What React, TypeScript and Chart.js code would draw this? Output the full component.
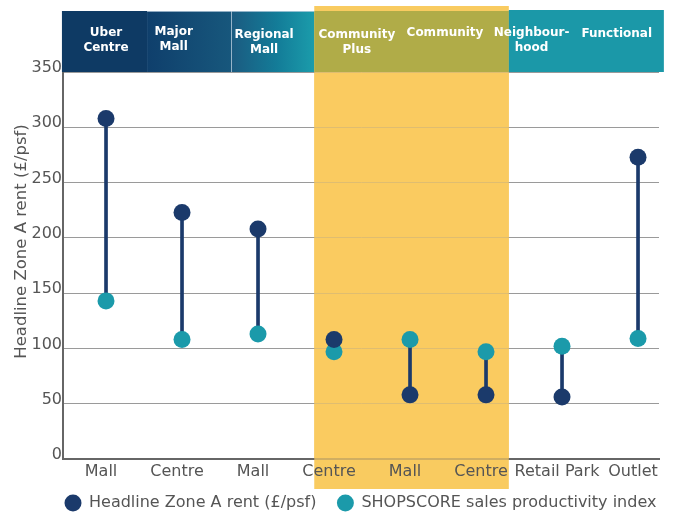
import { useEffect, useRef } from "react";
import { Chart, registerables } from "chart.js";

Chart.register(...registerables);

const categories = ["Mall", "Centre", "Mall", "Centre", "Mall", "Centre", "Retail Park", "Outlet"];
const headlineRent = [308, 223, 208, 108, 58, 58, 56, 273];
const shopscore = [143, 108, 113, 97, 108, 97, 102, 109];
const yTicks = [0, 50, 100, 150, 200, 250, 300, 350];

const groupLabels = [
  ["Uber", "Centre"],
  ["Major", "Mall"],
  ["Regional", "Mall"],
  ["Community", "Plus"],
  ["Community"],
  ["Neighbour-", "hood"],
  ["Functional"],
];
const groupLabelX = [0, 0.89, 2.08, 3.3, 4.46, 5.6, 6.72];
const groupLabelY = [33, 32, 35, 35, 33, 33, 34];

const FONT = "'DejaVu Sans', sans-serif";
const NAVY = "#1b3a6b";
const TEAL = "#1b9aaa";
const YELLOW = "#f9cb60";

const HL_FROM = 2.74;
const HL_TO = 5.3;
const LEGEND_PAD = 21;

const decorPlugin = {
  id: "decor",
  afterLayout(chart: any) {
    const lg = chart.legend;
    if (lg) {
      lg.left = chart.chartArea.left + 2 - LEGEND_PAD;
      lg.right = chart.width + 100;
      lg.top = chart.chartArea.bottom + 15;
    }
  },
  beforeDraw(chart: any) {
    const { ctx, chartArea, scales } = chart;
    const x = scales.x;
    const x0 = x.getPixelForValue(HL_FROM);
    const x1 = x.getPixelForValue(HL_TO);
    ctx.save();
    ctx.fillStyle = YELLOW;
    ctx.fillRect(x0, chartArea.top - 66, x1 - x0, chartArea.bottom - chartArea.top + 96);
    ctx.restore();
  },
  beforeDatasetsDraw(chart: any) {
    const { ctx, chartArea, scales } = chart;
    const x = scales.x;
    const x0 = x.getPixelForValue(HL_FROM);
    const x1 = x.getPixelForValue(HL_TO);
    ctx.save();
    ctx.fillStyle = "rgba(249,203,96,0.72)";
    ctx.fillRect(x0, chartArea.top, x1 - x0, chartArea.bottom - chartArea.top + 1);
    ctx.restore();
  },
  afterDraw(chart: any) {
    const { ctx, chartArea, scales } = chart;
    const x = scales.x;
    const top = chartArea.top - 61;
    const bot = chartArea.top;
    const px = (v: number) => x.getPixelForValue(v);
    ctx.save();
    // Uber Centre
    ctx.fillStyle = "#0e3a64";
    ctx.fillRect(px(-0.58), top, px(0.54) - px(-0.58), bot - top);
    // Major Mall
    let g = ctx.createLinearGradient(px(0.54), 0, px(1.645), 0);
    g.addColorStop(0, "#0f3f6c");
    g.addColorStop(1, "#17577c");
    ctx.fillStyle = g;
    ctx.fillRect(px(0.54), top, px(1.645) - px(0.54), bot - top);
    // Regional Mall
    g = ctx.createLinearGradient(px(1.645), 0, px(HL_FROM), 0);
    g.addColorStop(0, "#1b5a80");
    g.addColorStop(0.55, "#137c98");
    g.addColorStop(1, "#1b9cab");
    ctx.fillStyle = g;
    ctx.fillRect(px(1.645), top, px(HL_FROM) - px(1.645), bot - top);
    // Community group (olive)
    ctx.fillStyle = "#b0ac48";
    ctx.fillRect(px(HL_FROM), top, px(HL_TO) - px(HL_FROM), bot - top);
    // Neighbourhood / Functional
    ctx.fillStyle = "#1b98a8";
    ctx.fillRect(px(HL_TO), top - 1, px(7.34) - px(HL_TO), bot - top + 1);
    // light separators
    ctx.strokeStyle = "rgba(200,215,230,0.7)";
    ctx.lineWidth = 1;
    ctx.beginPath();
    ctx.moveTo(Math.round(px(1.645)) + 0.5, top);
    ctx.lineTo(Math.round(px(1.645)) + 0.5, bot);
    ctx.moveTo(px(0.54), top + 0.5);
    ctx.lineTo(px(HL_FROM), top + 0.5);
    ctx.stroke();

    ctx.fillStyle = "#ffffff";
    ctx.font = `bold 12px ${FONT}`;
    ctx.textAlign = "center";
    ctx.textBaseline = "middle";
    groupLabels.forEach((lines, i) => {
      lines.forEach((t, j) => {
        ctx.fillText(t, px(groupLabelX[i]), groupLabelY[i] + j * 14.5);
      });
    });

    // y-axis title
    ctx.translate(22, (chartArea.top + chartArea.bottom) / 2 - 24);
    ctx.rotate(-Math.PI / 2);
    ctx.fillStyle = "#555555";
    ctx.font = `16.5px ${FONT}`;
    ctx.fillText("Headline Zone A rent (£/psf)", 0, 0);
    ctx.restore();
  },
};

export default function App() {
  const ref = useRef<HTMLCanvasElement | null>(null);
  useEffect(() => {
    if (!ref.current) return;
    const tickFont = { family: FONT, size: 16 };
    const chart = new Chart(ref.current, {
      type: "scatter",
      data: {
        datasets: [
          {
            label: "Headline Zone A rent (£/psf)",
            data: headlineRent.map((v, i) => ({ x: i, y: v })),
            backgroundColor: NAVY,
            borderColor: NAVY,
            pointRadius: 8.5,
            pointHoverRadius: 8.5,
            borderWidth: 0,
            order: 0,
          },
          {
            label: "SHOPSCORE sales productivity index",
            data: shopscore.map((v, i) => ({ x: i, y: v })),
            backgroundColor: TEAL,
            borderColor: TEAL,
            pointRadius: 8.5,
            pointHoverRadius: 8.5,
            borderWidth: 0,
            order: 1,
          },
          {
            type: "bar",
            label: "connector",
            data: headlineRent.map((v, i) => ({ x: i, y: [shopscore[i], v] })),
            backgroundColor: NAVY,
            barThickness: 3,
            order: 2,
          } as any,
        ],
      },
      options: {
        animation: false,
        responsive: true,
        maintainAspectRatio: false,
        layout: { padding: { top: 72, right: 19, left: 0, bottom: -17 } },
        plugins: {
          legend: {
            position: "bottom",
            align: "start",
            labels: {
              usePointStyle: true,
              pointStyle: "circle",
              boxHeight: 12,
              padding: LEGEND_PAD,
              color: "#555555",
              font: { family: FONT, size: 16 },
              filter: (item: any) => item.datasetIndex !== 2,
            },
          },
          tooltip: { enabled: false },
        },
        scales: {
          x: {
            type: "linear",
            offset: false,
            min: -0.566,
            max: 7.276,
            grid: { display: false, drawTicks: false, offset: false },
            border: { color: "#666666", width: 2 },
            afterBuildTicks: (s: any) => {
              s.ticks = categories.map((_, i) => ({ value: i }));
            },
            afterFit: (s: any) => {
              s.height = 25;
            },
            ticks: {
              callback: (v: any) => categories[v as number],
              padding: 3,
              labelOffset: -5,
              color: "#555555",
              font: tickFont,
              autoSkip: false,
              maxRotation: 0,
            },
          },
          y: {
            min: 0,
            max: 350,
            afterBuildTicks: (s: any) => {
              s.ticks = yTicks.map((v) => ({ value: v }));
            },
            afterFit: (s: any) => {
              s.width = 63;
            },
            grid: { color: "#9a9a9a", lineWidth: 1, drawTicks: false },
            border: { color: "#666666", width: 2 },
            ticks: { padding: 1, labelOffset: -4, color: "#555555", font: tickFont },
          },
        },
      } as any,
      plugins: [decorPlugin],
    });
    return () => chart.destroy();
  }, []);
  return (
    <div style={{ position: "absolute", left: 0, top: 0, width: 678, height: 514, background: "#fff" }}>
      <canvas ref={ref} />
    </div>
  );
}
